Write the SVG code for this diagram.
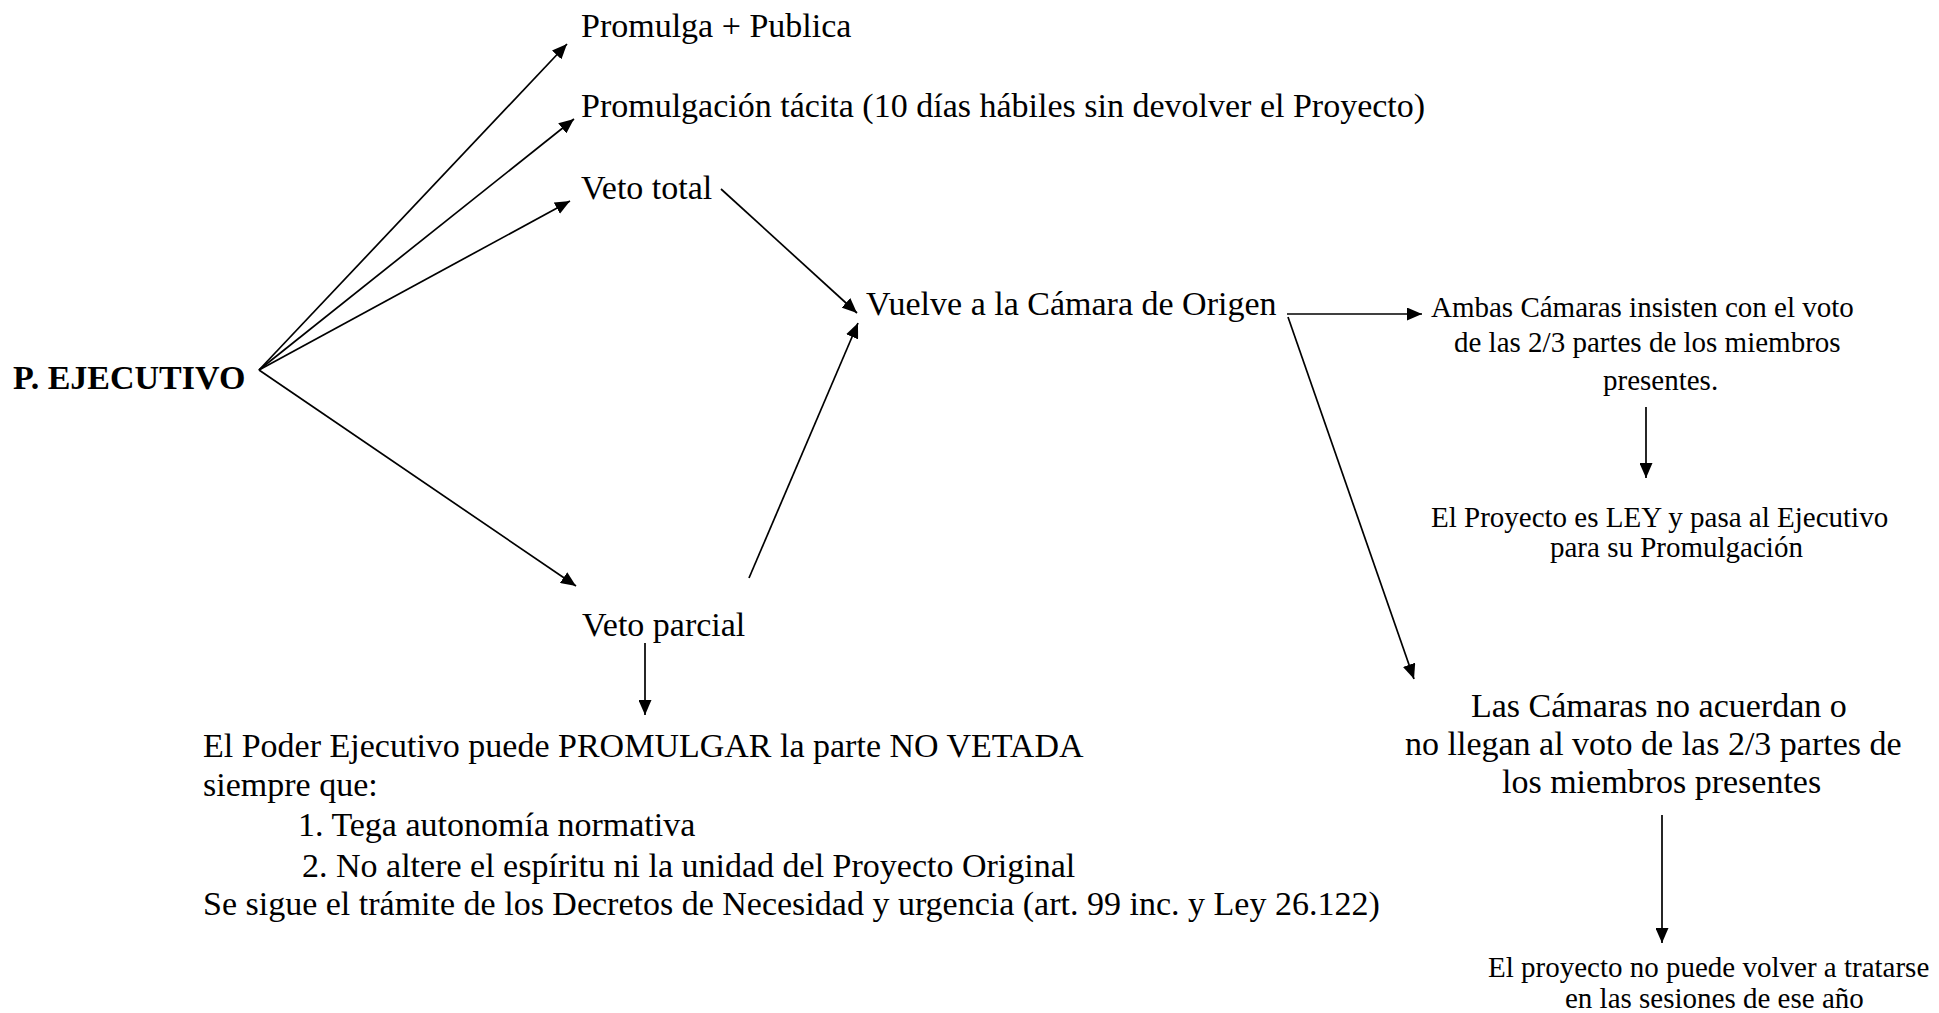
<svg xmlns="http://www.w3.org/2000/svg" width="1939" height="1013" viewBox="0 0 1939 1013">
<style>
text{font-family:"Liberation Serif","Times New Roman",serif;fill:#000}
.m{font-size:34px}
.s{font-size:29px}
.b{font-size:34px;font-weight:bold}
.c line{stroke:#000;stroke-width:1.7;fill:none}
</style>
<defs>
<marker id="ah" markerUnits="userSpaceOnUse" markerWidth="16" markerHeight="13" refX="15" refY="6.5" orient="auto">
<path d="M0,0 L15,6.5 L0,13 Z" fill="#000"/>
</marker>
</defs>
<rect width="1939" height="1013" fill="#fff"/>
<g class="c" id="connectors">
<line x1="259" y1="370" x2="567" y2="44" marker-end="url(#ah)"/>
<line x1="259" y1="370" x2="574" y2="119" marker-end="url(#ah)"/>
<line x1="259" y1="370" x2="570" y2="201" marker-end="url(#ah)"/>
<line x1="259" y1="370" x2="576" y2="586" marker-end="url(#ah)"/>
<line x1="721" y1="189" x2="857" y2="313" marker-end="url(#ah)"/>
<line x1="749" y1="578" x2="858" y2="323" marker-end="url(#ah)"/>
<line x1="1287" y1="314" x2="1422" y2="314" marker-end="url(#ah)"/>
<line x1="1288" y1="317" x2="1414" y2="679" marker-end="url(#ah)"/>
<line x1="1646" y1="407" x2="1646" y2="478" marker-end="url(#ah)"/>
<line x1="645" y1="643" x2="645" y2="715" marker-end="url(#ah)"/>
<line x1="1662" y1="815" x2="1662" y2="943" marker-end="url(#ah)"/>
</g>
<g id="ejecutivo"><text class="b" x="13" y="389">P. EJECUTIVO</text></g>
<g id="promulga"><text class="m" x="581" y="37">Promulga + Publica</text></g>
<g id="tacita"><text class="m" x="581" y="117">Promulgación tácita (10 días hábiles sin devolver el Proyecto)</text></g>
<g id="vetototal"><text class="m" x="581" y="199">Veto total</text></g>
<g id="vuelve"><text class="m" x="866" y="315">Vuelve a la Cámara de Origen</text></g>
<g id="vetoparcial"><text class="m" x="582" y="636">Veto parcial</text></g>
<g id="parcialtexto">
<text class="m" x="203" y="757">El Poder Ejecutivo puede PROMULGAR la parte NO VETADA</text>
<text class="m" x="203" y="796">siempre que:</text>
<text class="m" x="298" y="836">1. Tega autonomía normativa</text>
<text class="m" x="302" y="877">2. No altere el espíritu ni la unidad del Proyecto Original</text>
<text class="m" x="203" y="915">Se sigue el trámite de los Decretos de Necesidad y urgencia (art. 99 inc. y Ley 26.122)</text>
</g>
<g id="ambas">
<text class="s" x="1431" y="317">Ambas Cámaras insisten con el voto</text>
<text class="s" x="1454" y="352">de las 2/3 partes de los miembros</text>
<text class="s" x="1603" y="390">presentes.</text>
</g>
<g id="ley">
<text class="s" x="1431" y="527">El Proyecto es LEY y pasa al Ejecutivo</text>
<text class="s" x="1550" y="557">para su Promulgación</text>
</g>
<g id="noacuerdan">
<text class="m" x="1471" y="717">Las Cámaras no acuerdan o</text>
<text class="m" x="1405" y="755">no llegan al voto de las 2/3 partes de</text>
<text class="m" x="1502" y="793">los miembros presentes</text>
</g>
<g id="novolver">
<text class="s" x="1488" y="977">El proyecto no puede volver a tratarse</text>
<text class="s" x="1565" y="1008">en las sesiones de ese año</text>
</g>
</svg>
